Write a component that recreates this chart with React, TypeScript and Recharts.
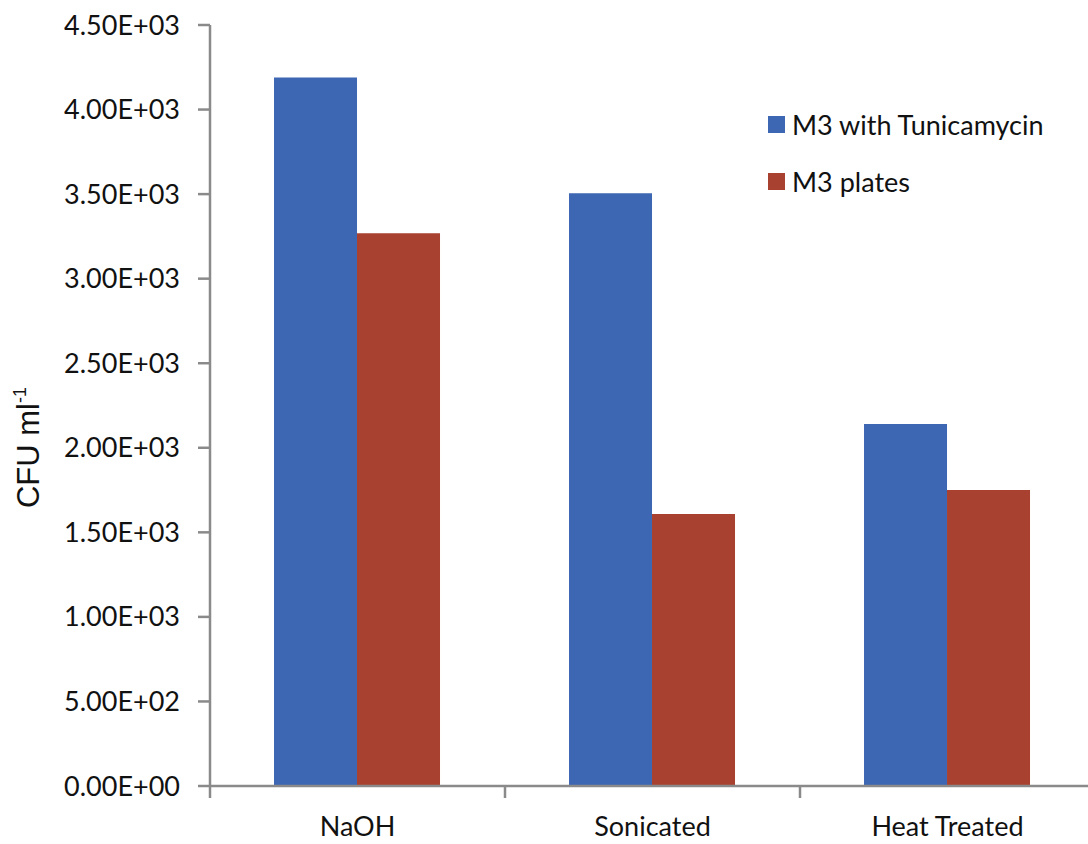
import React from "react";
import { BarChart, Bar, XAxis, YAxis, Label } from "recharts";

const categories = ["NaOH", "Sonicated", "Heat Treated"];
const tunicamycin = [4190, 3505, 2140];
const plates = [3268, 1608, 1750];
const yTicks = [0, 500, 1000, 1500, 2000, 2500, 3000, 3500, 4000, 4500];
const seriesNames = ["M3 with Tunicamycin", "M3 plates"];
const seriesColors = ["#3D66B3", "#A8412F"];

const data = categories.map((c, i) => ({
  name: c,
  tun: tunicamycin[i],
  plates: plates[i],
}));

const FONT = "Lato, 'Open Sans', sans-serif";
const AXIS = "#8a8a8a";

function sci(v: number): string {
  if (v === 0) return "0.00E+00";
  const e = Math.floor(Math.log10(Math.abs(v)));
  const m = v / Math.pow(10, e);
  const es = (e < 0 ? "-" : "+") + String(Math.abs(e)).padStart(2, "0");
  return m.toFixed(2) + "E" + es;
}

const CatTick = (props: any) => {
  const { x, y, payload } = props;
  const off = payload && payload.offset ? payload.offset : 0;
  return (
    <g>
      <line x1={x - off} x2={x - off} y1={y - 1} y2={y + 12} stroke={AXIS} strokeWidth={2.5} />
      <text x={x} y={y + 50} textAnchor="middle" fontFamily={FONT} fontSize={27} fill="#111">
        {payload.value}
      </text>
    </g>
  );
};

const YLabel = (props: any) => {
  const vb = props.viewBox || { x: 0, y: 0, width: 0, height: 0 };
  const cx = vb.x + 29;
  const cy = vb.y + vb.height / 2 + 42;
  return (
    <text
      x={cx}
      y={cy}
      transform={`rotate(-90, ${cx}, ${cy})`}
      textAnchor="middle"
      fontFamily="'Liberation Sans', Arial, sans-serif"
      fontSize={31}
      fill="#111"
    >
      <tspan>CFU ml</tspan>
      <tspan fontSize={18} dy={-13}>-1</tspan>
    </text>
  );
};

export default function App() {
  return (
    <div
      style={{
        position: "absolute",
        left: 0,
        top: 0,
        width: 1088,
        height: 844,
        overflow: "hidden",
        background: "#fff",
      }}
    >
      <BarChart
        width={1100}
        height={844}
        data={data}
        margin={{ top: 25, right: 5, left: 10, bottom: 8 }}
        barCategoryGap="21.7%"
        barGap={0}
      >
        <XAxis
          dataKey="name"
          axisLine={{ stroke: AXIS, strokeWidth: 2.5 }}
          tickLine={false}
          tickSize={0}
          tickMargin={0}
          tick={<CatTick />}
          height={50}
          interval={0}
        />
        <YAxis
          domain={[0, 4500]}
          ticks={yTicks}
          tickFormatter={sci}
          width={200}
          axisLine={{ stroke: AXIS, strokeWidth: 2.5 }}
          tickLine={{ stroke: AXIS, strokeWidth: 2.5 }}
          tickSize={12}
          tickMargin={18}
          tick={{ fontFamily: FONT, fontSize: 27, fill: "#111" }}
          interval={0}
        >
          <Label content={<YLabel />} />
        </YAxis>
        <Bar dataKey="tun" name={seriesNames[0]} fill={seriesColors[0]} isAnimationActive={false} />
        <Bar dataKey="plates" name={seriesNames[1]} fill={seriesColors[1]} isAnimationActive={false} />
      </BarChart>
      <div
        style={{
          position: "absolute",
          top: 96,
          left: 768,
          fontFamily: FONT,
          fontSize: 27,
          color: "#111",
        }}
      >
        {seriesNames.map((n, i) => (
          <div key={n} style={{ display: "flex", alignItems: "center", height: 57 }}>
            <span
              style={{
                display: "inline-block",
                width: 17,
                height: 17,
                background: seriesColors[i],
                marginRight: 7,
              }}
            />
            <span>{n}</span>
          </div>
        ))}
      </div>
    </div>
  );
}
